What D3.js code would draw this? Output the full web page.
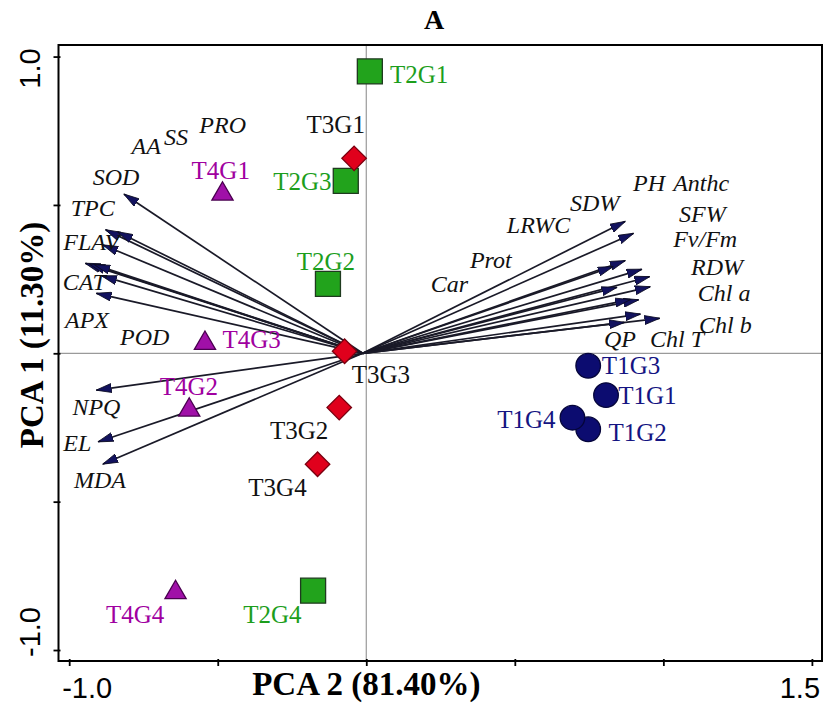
<!DOCTYPE html>
<html>
<head>
<meta charset="utf-8">
<script src="https://cdn.jsdelivr.net/npm/d3@7"></script>
<style>
  html, body { margin: 0; padding: 0; background: #fff; }
  svg { display: block; }
  .serif { font-family: "Liberation Serif", "Times New Roman", "DejaVu Serif", serif; }
  .sans { font-family: "Liberation Sans", Arial, "DejaVu Sans", sans-serif; }
</style>
</head>
<body>
<svg id="chart" width="825" height="705"></svg>
<script>
// ---------------- DATA ----------------
const chartTitle = "A";
const xTitle = "PCA 2 (81.40%)";
const yTitle = "PCA 1 (11.30%)";
const xTicks = [-1.0, -0.5, 0, 0.5, 1.0, 1.5];
const yTicks = [-1.0, -0.5, 0, 0.5, 1.0];
const xTickLabels = ["-1.0", "1.5"];
const xTickLabelValues = [-1.0, 1.5];
const yTickLabels = ["1.0", "-1.0"];
const yTickLabelValues = [1.0, -1.0];

// loading vectors (arrow tips)
const arrowOrigin = [-0.012, 0];
const arrowX = [0.871, 0.899, 0.871, 0.830, 0.927, 0.953, 0.955, 0.843, 0.916, 0.888, 0.922, 0.987, 0.868,
                -0.815, -0.877, -0.836, -0.886, -0.945, -0.930, -0.913, -0.890, -0.908,
                -0.908, -0.902, -0.886];
const arrowY = [0.444, 0.404, 0.312, 0.292, 0.283, 0.258, 0.224, 0.222, 0.180, 0.181, 0.132, 0.118, 0.104,
                0.536, 0.416, 0.409, 0.365, 0.303, 0.300, 0.298, 0.261, 0.202,
                -0.124, -0.298, -0.373];

// variable labels (label anchor in data units)
const varNames = ["PH", "Anthc", "SDW", "LRWC", "Prot", "Car", "SFW", "Fv/Fm", "RDW", "Chl a", "Chl b", "Chl T", "QP",
                  "AA", "SS", "PRO", "SOD", "TPC", "FLAV", "CAT", "APX", "POD",
                  "NPQ", "EL", "MDA"];
const varLabelX = [0.898, 1.033, 0.686, 0.473, 0.349, 0.217, 1.053, 1.033, 1.093, 1.116, 1.120, 0.955, 0.800,
                   -0.790, -0.681, -0.562, -0.921, -0.995, -1.020, -1.022, -1.014, -0.829,
                   -0.989, -1.020, -0.984];
const varLabelY = [0.548, 0.548, 0.481, 0.405, 0.289, 0.206, 0.444, 0.359, 0.264, 0.176, 0.068, 0.022, 0.022,
                   0.672, 0.702, 0.741, 0.567, 0.463, 0.348, 0.213, 0.084, 0.028,
                   -0.208, -0.329, -0.455];

// sample scores
const sampleNames = ["T1G1", "T1G2", "T1G3", "T1G4",
                     "T2G1", "T2G2", "T2G3", "T2G4",
                     "T3G1", "T3G2", "T3G3", "T3G4",
                     "T4G1", "T4G2", "T4G3", "T4G4"];
const sampleGroup = ["T1", "T1", "T1", "T1", "T2", "T2", "T2", "T2",
                     "T3", "T3", "T3", "T3", "T4", "T4", "T4", "T4"];
const sampleX = [0.807, 0.747, 0.747, 0.694,
                 0.012, -0.129, -0.069, -0.179,
                 -0.041, -0.091, -0.073, -0.164,
                 -0.484, -0.596, -0.543, -0.642];
const sampleY = [-0.141, -0.256, -0.042, -0.217,
                 0.950, 0.234, 0.581, -0.800,
                 0.657, -0.183, 0.007, -0.374,
                 0.537, -0.191, 0.034, -0.806];
const sampleLabelX = [0.848, 0.815, 0.793, 0.441,
                      0.080, -0.234, -0.313, -0.414,
                      -0.201, -0.324, -0.049, -0.397,
                      -0.588, -0.695, -0.484, -0.876];
const sampleLabelY = [-0.172, -0.296, -0.071, -0.253,
                      0.910, 0.281, 0.550, -0.908,
                      0.741, -0.289, -0.101, -0.480,
                      0.586, -0.141, 0.017, -0.910];

const groups = ["T1", "T2", "T3", "T4"];
const groupFill = ["#0c0c70", "#22a31c", "#e0001c", "#a010a8"];
const groupStroke = ["#05053a", "#1f3a1f", "#7a0010", "#4a0050"];
const groupText = ["#141482", "#1c9e1c", "#111111", "#a000a0"];
const groupShape = [d3.symbolCircle, d3.symbolSquare, d3.symbolSquare, d3.symbolTriangle];
const groupRotate = [0, 0, 45, 0];
const groupSize = [475, 625, 300, 195];

// ---------------- DRAW ----------------
const svg = d3.select("#chart");
const L = 58.5, R = 822, T = 45, B = 661;
const x = d3.scaleLinear().domain([-1.036, 1.534]).range([L, R]);
const y = d3.scaleLinear().domain([-1.037, 1.039]).range([B, T]);

const defs = svg.append("defs");
defs.append("marker")
  .attr("id", "arrowhead")
  .attr("viewBox", "0 0 16 10")
  .attr("refX", 15).attr("refY", 5)
  .attr("markerWidth", 16).attr("markerHeight", 10)
  .attr("markerUnits", "userSpaceOnUse")
  .attr("orient", "auto")
  .append("path")
  .attr("d", "M0,0.5 L15.5,5 L0,9.5 Z")
  .attr("fill", "#12125e")
  .attr("stroke", "#0a0a20")
  .attr("stroke-width", 0.8);

// reference lines
svg.append("line").attr("x1", x(0)).attr("x2", x(0)).attr("y1", T).attr("y2", B)
  .attr("stroke", "#9a9a9a").attr("stroke-width", 1.2);
svg.append("line").attr("x1", L).attr("x2", R).attr("y1", y(0)).attr("y2", y(0))
  .attr("stroke", "#9a9a9a").attr("stroke-width", 1.2);

// axes ticks
const xAxis = d3.axisBottom(x).tickValues(xTicks).tickSize(7).tickFormat("");
svg.append("g").attr("transform", `translate(0,${B - 2})`).call(xAxis)
  .call(g => g.select(".domain").remove())
  .call(g => g.selectAll("line").attr("stroke", "#000").attr("stroke-width", 1.8));
const yAxis = d3.axisLeft(y).tickValues(yTicks).tickSize(7).tickFormat("");
svg.append("g").attr("transform", `translate(${L + 2},0)`).call(yAxis)
  .call(g => g.select(".domain").remove())
  .call(g => g.selectAll("line").attr("stroke", "#000").attr("stroke-width", 1.8));

// frame
svg.append("rect").attr("x", L).attr("y", T).attr("width", R - L).attr("height", B - T)
  .attr("fill", "none").attr("stroke", "#000").attr("stroke-width", 2);

// tick labels
svg.selectAll(".xtl").data(xTickLabels).join("text")
  .attr("class", "sans")
  .attr("x", (d, i) => x(xTickLabelValues[i]) + (i === 0 ? 18 : -12))
  .attr("y", 698)
  .attr("text-anchor", "middle")
  .attr("font-size", 29)
  .text(d => d);
svg.selectAll(".ytl").data(yTickLabels).join("text")
  .attr("class", "sans")
  .attr("transform", (d, i) => `translate(40,${y(yTickLabelValues[i]) + (i === 0 ? 12 : -18)}) rotate(-90)`)
  .attr("text-anchor", "middle")
  .attr("font-size", 29)
  .text(d => d);

// axis titles
svg.append("text").attr("class", "serif").attr("x", x(0)).attr("y", 695)
  .attr("text-anchor", "middle")
  .attr("font-weight", "bold").attr("font-size", 33)
  .text(xTitle);
svg.append("text").attr("class", "serif")
  .attr("transform", `translate(43,${(T + B) / 2 - 18}) rotate(-90)`)
  .attr("text-anchor", "middle")
  .attr("font-weight", "bold").attr("font-size", 33)
  .text(yTitle);
svg.append("text").attr("class", "serif").attr("x", 434).attr("y", 29)
  .attr("text-anchor", "middle")
  .attr("font-weight", "bold").attr("font-size", 28)
  .text(chartTitle);

// arrows
const arrows = arrowX.map((ax, i) => ({ x: ax, y: arrowY[i] }));
svg.append("g").selectAll("line").data(arrows).join("line")
  .attr("x1", x(arrowOrigin[0])).attr("y1", y(arrowOrigin[1]))
  .attr("x2", d => x(d.x)).attr("y2", d => y(d.y))
  .attr("stroke", "#1a1a28").attr("stroke-width", 1.7)
  .attr("marker-end", "url(#arrowhead)");

// variable labels
const vars = varNames.map((n, i) => ({ n, x: varLabelX[i], y: varLabelY[i] }));
svg.append("g").selectAll("text").data(vars).join("text")
  .attr("class", "serif")
  .attr("x", d => x(d.x)).attr("y", d => y(d.y))
  .attr("font-style", "italic").attr("font-size", 24)
  .attr("fill", "#111")
  .text(d => d.n);

// samples
const samples = sampleNames.map((n, i) => ({
  n, g: groups.indexOf(sampleGroup[i]), x: sampleX[i], y: sampleY[i],
  lx: sampleLabelX[i], ly: sampleLabelY[i]
}));
svg.append("g").selectAll("path").data(samples).join("path")
  .attr("transform", d => `translate(${x(d.x)},${y(d.y)}) rotate(${groupRotate[d.g]})`)
  .attr("d", d => d3.symbol().type(groupShape[d.g]).size(groupSize[d.g])())
  .attr("fill", d => groupFill[d.g])
  .attr("stroke", d => groupStroke[d.g])
  .attr("stroke-width", 1.3);

svg.append("g").selectAll("text").data(samples).join("text")
  .attr("class", "serif")
  .attr("x", d => x(d.lx)).attr("y", d => y(d.ly))
  .attr("font-size", 25)
  .attr("fill", d => groupText[d.g])
  .text(d => d.n);
</script>
</body>
</html>
